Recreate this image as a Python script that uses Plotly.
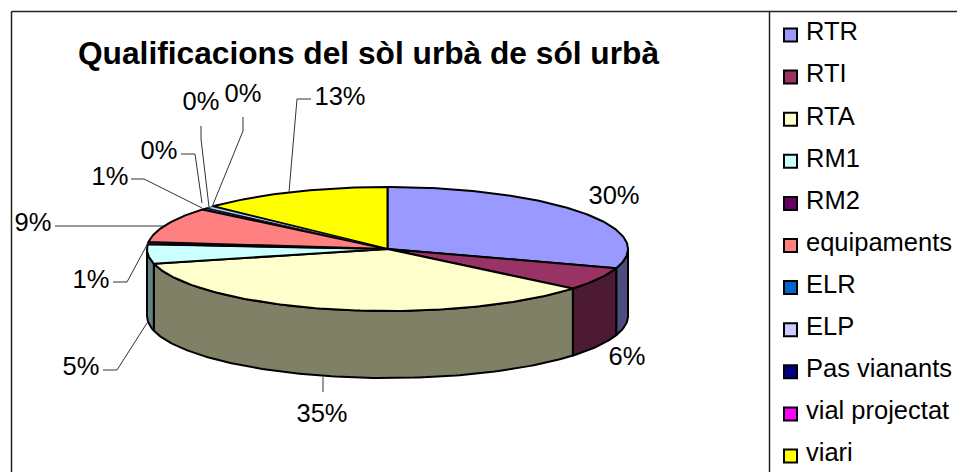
import numpy as np
import plotly.graph_objects as go

# ---------- data ----------
categories = ["RTR", "RTI", "RTA", "RM1", "RM2", "equipaments", "ELR", "ELP",
              "Pas vianants", "vial projectat", "viari"]
values = [30.0, 6.0, 35.2, 5.0, 0.6, 9.2, 0.5, 0.49, 0.05, 0.05, 12.91]
top_colors = ["#9999FF", "#993366", "#FFFFCC", "#CCFFFF", "#660066", "#FF8080",
              "#0066CC", "#CCCCFF", "#000080", "#FF00FF", "#FFFF00"]
side_colors = ["#4D4D80", "#4D1A33", "#808066", "#668080", "#330033", "#804040",
               "#003366", "#666680", "#000040", "#800080", "#808000"]
title_text = "Qualificacions del sòl urbà de sól urbà"

# ---------- layout constants (pixels) ----------
W, H = 957, 472
CX, CY, RX, RY, DEPTH = 387.5, 249.0, 240.5, 62.0, 67.0
FONT = "Liberation Sans, Arial, sans-serif"
LABEL_SIZE = 25.5
label_xy = [(614, 198), (627, 359), (322, 416), (81, 369), (91, 282), (33, 225),
            (110, 179), (159, 153), (201, 104), (243, 96), (340, 99)]
leaders = [None, None,
           [(323, 377), (323, 392)],
           [(147, 323), (117, 370), (103, 370)],
           [(148, 243), (127, 282), (113, 282)],
           [(163, 226), (55, 226)],
           [(202, 208), (144, 179), (131, 179)],
           [(202, 203), (195, 154), (181, 154)],
           [(209, 207), (201, 139), (201, 126)],
           [(212, 207), (243, 131), (243, 117)],
           [(289, 192), (297, 99), (311, 99)]]
LEGEND_SWATCH_X, LEGEND_TEXT_X, LEGEND_Y0, LEGEND_STEP = 790.5, 806, 35, 42.1
# tiny slices are painted so that the ELP strip stays on top, as in the picture
top_draw_order = [6, 8, 9, 0, 1, 2, 3, 4, 5, 10, 7]


def arc(a0, a1, dy=0.0):
    n = max(2, int(abs(a1 - a0)) + 2)
    t = np.radians(np.linspace(a0, a1, n))
    return CX + RX * np.sin(t), CY + dy - RY * np.cos(t)


total = sum(values)
edges = np.concatenate([[0], np.cumsum(values)]) * 360.0 / total
fig = go.Figure()

# side walls (only the front half of the disc is visible)
for i, cat in enumerate(categories):
    a0, a1 = max(edges[i], 90.0), min(edges[i + 1], 270.0)
    if a1 <= a0:
        continue
    x1, y1 = arc(a0, a1)
    x2, y2 = arc(a1, a0, DEPTH)
    fig.add_trace(go.Scatter(
        x=np.r_[x1, x2, x1[0]], y=np.r_[y1, y2, y1[0]], mode="lines", fill="toself",
        fillcolor=side_colors[i], line=dict(color="black", width=2),
        name=cat, hoverinfo="name", showlegend=False))

# top face
for i in top_draw_order:
    x1, y1 = arc(edges[i], edges[i + 1])
    width = 0.8 if categories[i] == "ELP" else (1.5 if values[i] < 1 else 2)
    fig.add_trace(go.Scatter(
        x=np.r_[CX, x1, CX], y=np.r_[CY, y1, CY], mode="lines", fill="toself",
        fillcolor=top_colors[i], line=dict(color="black", width=width),
        name=categories[i], hoverinfo="name", showlegend=False))

# leader lines
for pts in leaders:
    if pts:
        fig.add_trace(go.Scatter(
            x=[p[0] for p in pts], y=[p[1] for p in pts], mode="lines",
            line=dict(color="#333333", width=1), hoverinfo="skip", showlegend=False))

# data labels
pct = [f"{int(v / total * 100 + 0.5)}%" for v in values]
fig.add_trace(go.Scatter(
    x=[p[0] for p in label_xy], y=[p[1] for p in label_xy], text=pct, mode="text",
    textposition="middle center", textfont=dict(family=FONT, size=LABEL_SIZE, color="black"),
    hoverinfo="skip", showlegend=False))

# legend
ly = [LEGEND_Y0 + LEGEND_STEP * i for i in range(len(categories))]
fig.add_trace(go.Scatter(
    x=[LEGEND_SWATCH_X] * len(categories), y=ly, mode="markers",
    marker=dict(symbol="square", size=13, color=top_colors, line=dict(color="black", width=2)),
    hoverinfo="skip", showlegend=False))
fig.add_trace(go.Scatter(
    x=[LEGEND_TEXT_X] * len(categories), y=[v - 1 for v in ly], text=categories, mode="text",
    textposition="middle right", textfont=dict(family=FONT, size=LABEL_SIZE, color="black"),
    hoverinfo="skip", showlegend=False))

border = dict(color="#222222", width=1.5)
shapes = [
    dict(type="line", xref="x", yref="y", x0=11.5, x1=11.5, y0=11.5, y1=H, line=border),
    dict(type="line", xref="x", yref="y", x0=11.5, x1=W, y0=11.5, y1=11.5, line=border),
    dict(type="line", xref="x", yref="y", x0=769.5, x1=769.5, y0=11.5, y1=H, line=border),
]

fig.update_layout(
    width=W, height=H, margin=dict(l=0, r=0, t=0, b=0),
    paper_bgcolor="white", plot_bgcolor="white", showlegend=False, shapes=shapes,
    xaxis=dict(visible=False, range=[0, W], fixedrange=True),
    yaxis=dict(visible=False, range=[H, 0], fixedrange=True),
    title=dict(text=f"<b>{title_text}</b>", x=368.5 / W, xanchor="center", xref="paper",
               y=1 - 52.5 / H, yanchor="middle", yref="paper",
               font=dict(family=FONT, size=31.7, color="black")),
)

fig.write_html("out.html", config={"displayModeBar": False},
               post_script="document.body.style.margin='0';document.body.style.overflow='hidden';")
